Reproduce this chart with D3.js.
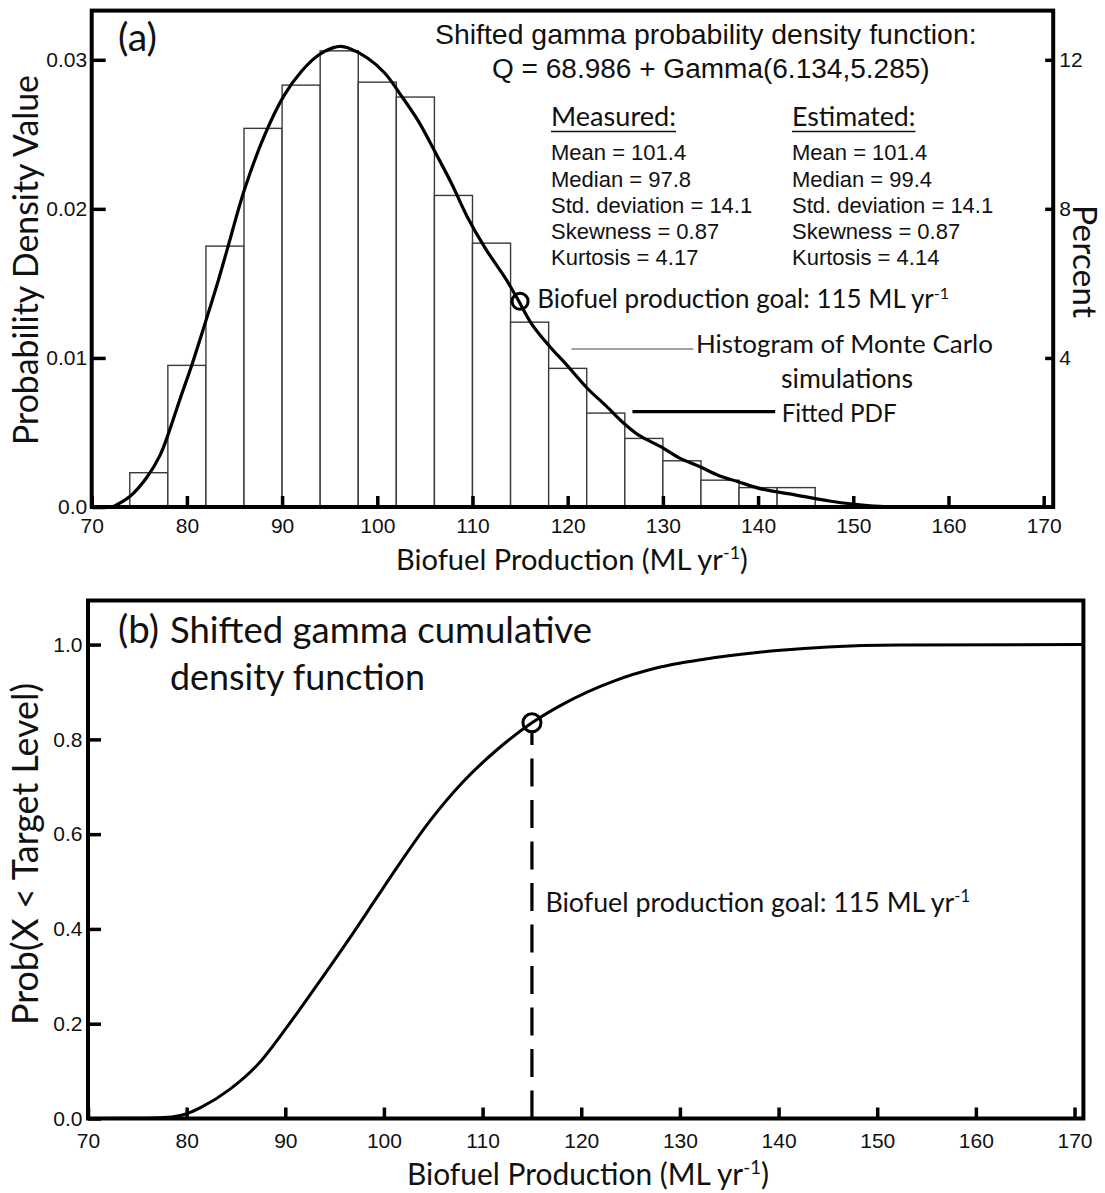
<!DOCTYPE html>
<html><head><meta charset="utf-8">
<script src="https://cdn.jsdelivr.net/npm/d3@7"></script>
<style>body{margin:0;background:#fff} svg{display:block}</style>
</head><body>
<svg id="c" width="1105" height="1193"></svg>
<script>
// ---------- data ----------
const binStarts = [74,78,82,86,90,94,98,102,106,110,114,118,122,126,130,134,138,142];
const binDensity = [0.0023,0.0095,0.0175,0.0254,0.0283,0.0306,0.0285,0.0275,0.0209,0.0177,0.0124,0.0093,0.0063,0.0046,0.0031,0.0018,0.0013,0.0013];
const binWidth = 4;

const pdfX = [72.2,74.0,75.8,77.2,78.1,79.2,80.5,81.8,83.3,84.2,86.1,88.2,90.2,92.0,93.8,95.3,96.2,96.9,99.0,100.8,102.4,104.3,106.0,107.8,109.5,111.3,113.5,114.7,116.3,118.2,119.8,122.0,124.0,126.1,127.5,129.9,131.7,133.9,135.9,137.9,140.4,144.0,147.5,149.9,152.8,158.0];
const pdfY = [0,0.0007,0.0020,0.0035,0.0050,0.0071,0.0095,0.0121,0.0152,0.0172,0.0214,0.0250,0.0276,0.0292,0.0303,0.0308,0.0309,0.0308,0.0301,0.0291,0.0277,0.0259,0.0239,0.0217,0.0194,0.0174,0.0153,0.0140,0.0122,0.0107,0.0096,0.0080,0.0068,0.0055,0.0048,0.0040,0.0033,0.0027,0.0021,0.0017,0.0012,0.0008,0.0004,0.0002,0.00005,0];

const cdfX = [70,76.0,78.5,80.0,81.5,84.4,87.3,90.2,93.8,96.7,99.3,101.1,104.7,108.0,111.4,115.0,118.2,123.3,127.7,133.4,140.2,145.0,152.3,170.9];
const cdfY = [0,0.0005,0.003,0.010,0.024,0.062,0.116,0.194,0.299,0.386,0.467,0.523,0.629,0.710,0.777,0.835,0.875,0.923,0.951,0.972,0.988,0.995,0.999,1.0];

const xTicks = [70,80,90,100,110,120,130,140,150,160,170];
const pdfTicks = [0,0.01,0.02,0.03];
const pdfTickLabels = ["0.0","0.01","0.02","0.03"];
const pctTicks = [4,8,12];
const cdfTicks = [0,0.2,0.4,0.6,0.8,1.0];
const cdfTickLabels = ["0.0","0.2","0.4","0.6","0.8","1.0"];

const goal = 115, goalPdf = 0.0138, goalCdf = 0.835;
const statNames = ["Mean","Median","Std. deviation","Skewness","Kurtosis"];
const measured = ["101.4","97.8","14.1","0.87","4.17"];
const estimated = ["101.4","99.4","14.1","0.87","4.14"];

// ---------- drawing ----------
const CAL = "Lato, 'Open Sans', sans-serif";
const ARI = "'Liberation Sans', Arial, sans-serif";
const INK = "#111";
const svg = d3.select("#c");

function fit(sel, width){
  const w = sel.node().getComputedTextLength();
  const fs = parseFloat(sel.attr("font-size"));
  sel.attr("font-size", fs*width/w);
  return sel;
}
function label(g, x, y, parts, opts){
  const t = g.append("text").attr("x",x).attr("y",y)
    .attr("font-family",opts.font||CAL).attr("font-size",opts.size||24)
    .attr("fill",INK).attr("text-anchor",opts.anchor||"start");
  parts.forEach(p=>{
    const s = t.append("tspan").text(p.t);
    if(p.sup) s.attr("font-size","0.62em").attr("baseline-shift","super");
  });
  if(opts.width) fit(t, opts.width);
  return t;
}

function draw(){
  // ===== Panel (a) =====
  const xA = d3.scaleLinear().domain([70,171]).range([91.7,1053.2]);
  const yA = d3.scaleLinear().domain([0,0.0333]).range([507,10.6]);
  const yP = d3.scaleLinear().domain([0,0.0333*100*binWidth]).range([507,10.6]);
  const gA = svg.append("g");

  gA.selectAll("rect.bin").data(binStarts).join("rect").attr("class","bin")
    .attr("x",d=>xA(d)).attr("width",d=>xA(d+binWidth)-xA(d))
    .attr("y",(d,i)=>yA(binDensity[i])).attr("height",(d,i)=>yA(0)-yA(binDensity[i]))
    .attr("fill","#fff").attr("stroke","#3a3a3a").attr("stroke-width",1.4);

  const lineA = d3.line().x(d=>xA(d[0])).y(d=>yA(d[1])).curve(d3.curveCatmullRom.alpha(0.5));
  gA.append("path").datum(pdfX.map((v,i)=>[v,pdfY[i]])).attr("d",lineA)
    .attr("fill","none").attr("stroke","#000").attr("stroke-width",3.2);

  // axes (ticks + labels)
  const axB = gA.append("g").attr("transform",`translate(0,${yA(0)})`)
    .call(d3.axisBottom(xA).tickValues(xTicks).tickSize(-11).tickPadding(11).tickFormat(d3.format("d")));
  const axL = gA.append("g").attr("transform",`translate(${xA(70)},0)`)
    .call(d3.axisLeft(yA).tickValues(pdfTicks).tickSize(-14).tickPadding(4.5).tickFormat((d,i)=>pdfTickLabels[i]));
  const axR = gA.append("g").attr("transform",`translate(${xA(171)},0)`)
    .call(d3.axisRight(yP).tickValues(pctTicks).tickSize(-8).tickPadding(6).tickFormat(d3.format("d")));
  [axB,axL,axR].forEach(a=>{
    a.select(".domain").remove();
    a.selectAll(".tick line").attr("stroke","#000").attr("stroke-width",3.5);
    a.selectAll(".tick text").attr("font-family",ARI).attr("font-size",21).attr("fill",INK);
  });
  // frame
  gA.append("rect").attr("x",xA(70)).attr("y",yA(0.0333)).attr("width",xA(171)-xA(70)).attr("height",yA(0)-yA(0.0333))
    .attr("fill","none").attr("stroke","#000").attr("stroke-width",4);

  // goal marker
  gA.append("circle").attr("cx",xA(goal)).attr("cy",yA(goalPdf)).attr("r",8)
    .attr("fill","none").attr("stroke","#000").attr("stroke-width",3);

  // annotation connectors
  gA.append("line").attr("x1",xA(120.4)).attr("x2",xA(133.2)).attr("y1",yA(0.0106)).attr("y2",yA(0.0106))
    .attr("stroke","#444").attr("stroke-width",1.2);
  gA.append("line").attr("x1",xA(126.8)).attr("x2",xA(141.8)).attr("y1",yA(0.0064)).attr("y2",yA(0.0064))
    .attr("stroke","#000").attr("stroke-width",3.2);

  // texts
  label(gA,118,51,[{t:"(a)"}],{size:30,width:39});
  label(gA,435,43.5,[{t:"Shifted gamma probability density function:"}],{font:ARI,size:28,width:542});
  label(gA,492,77.5,[{t:"Q = 68.986 + Gamma(6.134,5.285)"}],{font:ARI,size:28,width:438});
  label(gA,551,126,[{t:"Measured:"}],{size:25,width:125});
  label(gA,792,126,[{t:"Estimated:"}],{size:25,width:123.5});
  gA.append("line").attr("x1",551).attr("x2",676).attr("y1",131.5).attr("y2",131.5).attr("stroke",INK).attr("stroke-width",1.6);
  gA.append("line").attr("x1",792).attr("x2",915.5).attr("y1",131.5).attr("y2",131.5).attr("stroke",INK).attr("stroke-width",1.6);
  const rowY = [160,186.5,212.8,239,265.3];
  statNames.forEach((n,i)=>{
    label(gA,551,rowY[i],[{t:`${n} = ${measured[i]}`}],{font:ARI,size:22});
    label(gA,792,rowY[i],[{t:`${n} = ${estimated[i]}`}],{font:ARI,size:22});
  });
  label(gA,537.3,308.3,[{t:"Biofuel production goal: 115 ML yr"},{t:"-1",sup:true}],{size:24,width:412});
  label(gA,696,353.3,[{t:"Histogram of Monte Carlo"}],{size:24,width:297});
  label(gA,847,388.3,[{t:"simulations"}],{size:24,width:132,anchor:"middle"});
  label(gA,781.7,422.3,[{t:"Fitted PDF"}],{size:24,width:115});
  label(gA,396,570,[{t:"Biofuel Production (ML yr"},{t:"-1",sup:true},{t:")"}],{size:27,width:352});
  const gyl = gA.append("g").attr("transform","translate(37.5,260) rotate(-90)");
  label(gyl,0,0,[{t:"Probability Density Value"}],{size:28,width:370,anchor:"middle"});
  const gyr = gA.append("g").attr("transform","translate(1073,261.5) rotate(90)");
  label(gyr,0,0,[{t:"Percent"}],{size:28,width:113,anchor:"middle"});

  // ===== Panel (b) =====
  const xB = d3.scaleLinear().domain([70,170.9]).range([88,1083.4]);
  const yB = d3.scaleLinear().domain([0,1.093]).range([1118.5,600.5]);
  const gB = svg.append("g");

  const lineB = d3.line().x(d=>xB(d[0])).y(d=>yB(d[1])).curve(d3.curveMonotoneX);
  gB.append("path").datum(cdfX.map((v,i)=>[v,cdfY[i]])).attr("d",lineB)
    .attr("fill","none").attr("stroke","#000").attr("stroke-width",3);

  const bB = gB.append("g").attr("transform",`translate(0,${yB(0)})`)
    .call(d3.axisBottom(xB).tickValues(xTicks).tickSize(-11).tickPadding(14.5).tickFormat(d3.format("d")));
  const bL = gB.append("g").attr("transform",`translate(${xB(70)},0)`)
    .call(d3.axisLeft(yB).tickValues(cdfTicks).tickSize(-13).tickPadding(5.5).tickFormat((d,i)=>cdfTickLabels[i]));
  [bB,bL].forEach(a=>{
    a.select(".domain").remove();
    a.selectAll(".tick line").attr("stroke","#000").attr("stroke-width",3.5);
    a.selectAll(".tick text").attr("font-family",ARI).attr("font-size",21).attr("fill",INK);
  });
  gB.append("rect").attr("x",xB(70)).attr("y",yB(1.093)).attr("width",xB(170.9)-xB(70)).attr("height",yB(0)-yB(1.093))
    .attr("fill","none").attr("stroke","#000").attr("stroke-width",4);

  gB.append("line").attr("x1",xB(goal)).attr("x2",xB(goal)).attr("y1",yB(0)).attr("y2",yB(goalCdf)+9)
    .attr("stroke","#000").attr("stroke-width",3.2).attr("stroke-dasharray","28,13.5");
  gB.append("circle").attr("cx",xB(goal)).attr("cy",yB(goalCdf)).attr("r",9)
    .attr("fill","none").attr("stroke","#000").attr("stroke-width",3);

  label(gB,118,643.3,[{t:"(b)"}],{size:32,width:41});
  label(gB,170,643.3,[{t:"Shifted gamma cumulative"}],{size:32,width:422});
  label(gB,170,690,[{t:"density function"}],{size:32,width:255});
  label(gB,545.4,911.7,[{t:"Biofuel production goal: 115 ML yr"},{t:"-1",sup:true}],{size:24,width:425});
  label(gB,407,1185,[{t:"Biofuel Production (ML yr"},{t:"-1",sup:true},{t:")"}],{size:27,width:362});
  const gyb = gB.append("g").attr("transform","translate(37.5,854) rotate(-90)");
  label(gyb,0,0,[{t:"Prob(X < Target Level)"}],{size:28,width:342,anchor:"middle"});
}
if (document.fonts && document.fonts.ready) document.fonts.ready.then(draw); else draw();
</script>
</body></html>
